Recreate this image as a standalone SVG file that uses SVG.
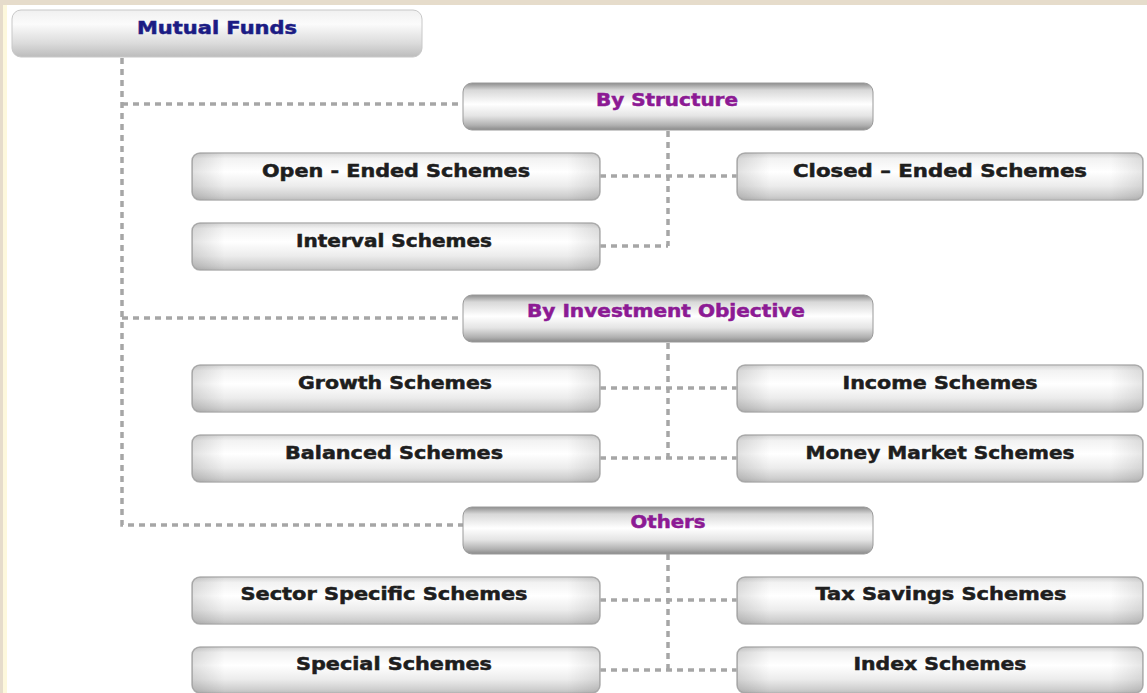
<svg xmlns="http://www.w3.org/2000/svg" width="1147" height="693" viewBox="0 0 1147 693">
<defs>
<linearGradient id="gChild" x1="0" y1="0" x2="0" y2="1">
<stop offset="0" stop-color="#d6d6d6"/>
<stop offset="0.12" stop-color="#f2f2f2"/>
<stop offset="0.4" stop-color="#ffffff"/>
<stop offset="0.7" stop-color="#ececec"/>
<stop offset="0.92" stop-color="#cfcfcf"/>
<stop offset="1" stop-color="#bdbdbd"/>
</linearGradient>
<linearGradient id="gHead" x1="0" y1="0" x2="0" y2="1">
<stop offset="0" stop-color="#8e8e8e"/>
<stop offset="0.15" stop-color="#d8d8d8"/>
<stop offset="0.45" stop-color="#ffffff"/>
<stop offset="0.7" stop-color="#e4e4e4"/>
<stop offset="0.9" stop-color="#b0b0b0"/>
<stop offset="1" stop-color="#8a8a8a"/>
</linearGradient>
<linearGradient id="gRoot" x1="0" y1="0" x2="0" y2="1">
<stop offset="0" stop-color="#f0f0f0"/>
<stop offset="0.3" stop-color="#fbfbfb"/>
<stop offset="0.7" stop-color="#dcdcdc"/>
<stop offset="1" stop-color="#bcbcbc"/>
</linearGradient>
<linearGradient id="gSide" x1="0" y1="0" x2="1" y2="0">
<stop offset="0" stop-color="#000" stop-opacity="0.12"/>
<stop offset="0.08" stop-color="#000" stop-opacity="0"/>
<stop offset="0.92" stop-color="#000" stop-opacity="0"/>
<stop offset="1" stop-color="#000" stop-opacity="0.1"/>
</linearGradient>
</defs>
<style>
.child{fill:url(#gChild);stroke:#b4b4b4;stroke-width:1.5}
.head{fill:url(#gHead);stroke:#9a9a9a;stroke-width:1}
.root{fill:url(#gRoot);stroke:#c8c8c8;stroke-width:1}
.side{fill:url(#gSide);stroke:none}
.t{font-family:"DejaVu Sans",Verdana,sans-serif;font-weight:bold;font-size:17px;text-anchor:middle;fill:#1e1e1e;stroke:#1e1e1e;stroke-width:0.5}
.th{fill:#8c1a94;stroke:#8c1a94}
.tr{fill:#1c1c84;stroke:#1c1c84}
.conn{fill:none;stroke:#a6a6a6;stroke-width:3.5;stroke-dasharray:6 5}
</style>
<rect x="0" y="0" width="1147" height="693" fill="#e6dccb"/>
<rect x="3" y="5" width="1144" height="688" fill="#fdf8dc"/>
<rect x="7" y="5" width="1140" height="688" fill="#ffffff"/>

<g id="connectors">
<path class="conn" d="M122 58 V525 H463"/>
<path class="conn" d="M122 104 H463"/>
<path class="conn" d="M122 318 H463"/>
<path class="conn" d="M668 131 V246"/>
<path class="conn" d="M600 176 H737"/>
<path class="conn" d="M600 246 H668"/>
<path class="conn" d="M668 343 V458"/>
<path class="conn" d="M600 388 H737"/>
<path class="conn" d="M600 458 H737"/>
<path class="conn" d="M668 554 V670"/>
<path class="conn" d="M600 600 H737"/>
<path class="conn" d="M600 670 H737"/>
</g>

<g id="mutual-funds">
<rect class="root" x="12" y="10" width="410" height="47" rx="9"/>
<text class="t tr" x="217" y="34" textLength="160" lengthAdjust="spacingAndGlyphs">Mutual Funds</text>
</g>

<g id="by-structure">
<rect class="head" x="463" y="83" width="410" height="47" rx="9"/>
<text class="t th" x="667" y="106" textLength="142" lengthAdjust="spacingAndGlyphs">By Structure</text>
</g>
<g id="open-ended">
<rect class="child" x="192" y="153" width="408" height="47" rx="8"/>
<rect class="side" x="192" y="153" width="408" height="47" rx="8"/>
<text class="t" x="396" y="177" textLength="268" lengthAdjust="spacingAndGlyphs">Open - Ended Schemes</text>
</g>
<g id="closed-ended">
<rect class="child" x="737" y="153" width="406" height="47" rx="8"/>
<rect class="side" x="737" y="153" width="406" height="47" rx="8"/>
<text class="t" x="940" y="177" textLength="294" lengthAdjust="spacingAndGlyphs">Closed – Ended Schemes</text>
</g>
<g id="interval">
<rect class="child" x="192" y="223" width="408" height="47" rx="8"/>
<rect class="side" x="192" y="223" width="408" height="47" rx="8"/>
<text class="t" x="394" y="247" textLength="196" lengthAdjust="spacingAndGlyphs">Interval Schemes</text>
</g>

<g id="by-investment-objective">
<rect class="head" x="463" y="295" width="410" height="47" rx="9"/>
<text class="t th" x="666" y="317" textLength="278" lengthAdjust="spacingAndGlyphs">By Investment Objective</text>
</g>
<g id="growth">
<rect class="child" x="192" y="365" width="408" height="47" rx="8"/>
<rect class="side" x="192" y="365" width="408" height="47" rx="8"/>
<text class="t" x="395" y="389" textLength="194" lengthAdjust="spacingAndGlyphs">Growth Schemes</text>
</g>
<g id="income">
<rect class="child" x="737" y="365" width="406" height="47" rx="8"/>
<rect class="side" x="737" y="365" width="406" height="47" rx="8"/>
<text class="t" x="940" y="389" textLength="195" lengthAdjust="spacingAndGlyphs">Income Schemes</text>
</g>
<g id="balanced">
<rect class="child" x="192" y="435" width="408" height="47" rx="8"/>
<rect class="side" x="192" y="435" width="408" height="47" rx="8"/>
<text class="t" x="394" y="459" textLength="218" lengthAdjust="spacingAndGlyphs">Balanced Schemes</text>
</g>
<g id="money-market">
<rect class="child" x="737" y="435" width="406" height="47" rx="8"/>
<rect class="side" x="737" y="435" width="406" height="47" rx="8"/>
<text class="t" x="940" y="459" textLength="269" lengthAdjust="spacingAndGlyphs">Money Market Schemes</text>
</g>

<g id="others">
<rect class="head" x="463" y="507" width="410" height="47" rx="9"/>
<text class="t th" x="668" y="528" textLength="75" lengthAdjust="spacingAndGlyphs">Others</text>
</g>
<g id="sector-specific">
<rect class="child" x="192" y="577" width="408" height="47" rx="8"/>
<rect class="side" x="192" y="577" width="408" height="47" rx="8"/>
<text class="t" x="384" y="600" textLength="287" lengthAdjust="spacingAndGlyphs">Sector Specific Schemes</text>
</g>
<g id="tax-savings">
<rect class="child" x="737" y="577" width="406" height="47" rx="8"/>
<rect class="side" x="737" y="577" width="406" height="47" rx="8"/>
<text class="t" x="941" y="600" textLength="251" lengthAdjust="spacingAndGlyphs">Tax Savings Schemes</text>
</g>
<g id="special">
<rect class="child" x="192" y="647" width="408" height="46" rx="8"/>
<rect class="side" x="192" y="647" width="408" height="46" rx="8"/>
<text class="t" x="394" y="670" textLength="196" lengthAdjust="spacingAndGlyphs">Special Schemes</text>
</g>
<g id="index">
<rect class="child" x="737" y="647" width="406" height="46" rx="8"/>
<rect class="side" x="737" y="647" width="406" height="46" rx="8"/>
<text class="t" x="940" y="670" textLength="173" lengthAdjust="spacingAndGlyphs">Index Schemes</text>
</g>
</svg>
